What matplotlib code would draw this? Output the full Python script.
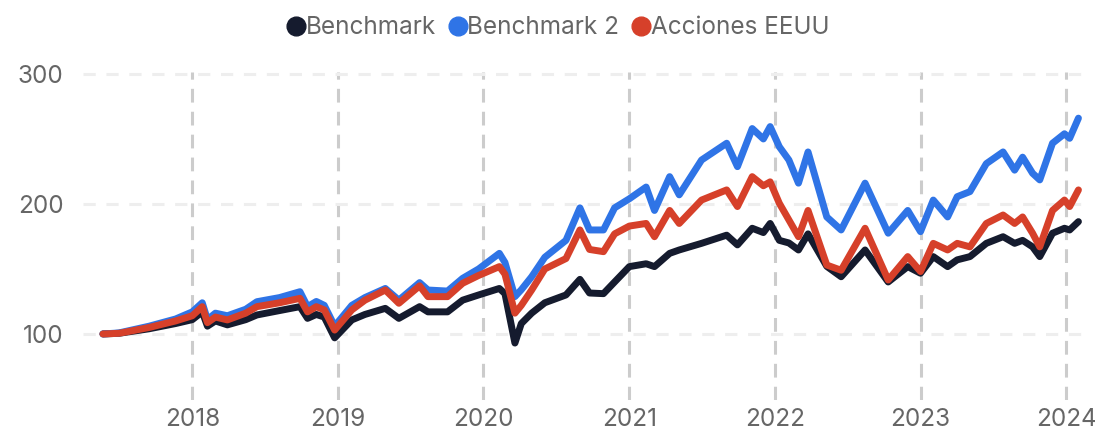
import matplotlib
matplotlib.use("Agg")
import matplotlib.pyplot as plt
import matplotlib.dates as mdates
from matplotlib.lines import Line2D
import pandas as pd

plt.rcParams['font.family'] = ['Inter', 'DejaVu Sans']

dates = [
    "2017-05-22", "2017-07-01", "2017-09-15", "2017-11-20", "2018-01-01", "2018-01-26",
    "2018-02-08", "2018-02-28", "2018-03-30", "2018-05-15", "2018-06-12", "2018-08-08",
    "2018-09-28", "2018-10-17", "2018-11-08", "2018-11-28", "2018-12-24", "2019-02-05",
    "2019-03-10", "2019-04-30", "2019-06-03", "2019-07-25", "2019-08-15", "2019-10-03",
    "2019-11-10", "2019-12-20", "2020-02-10", "2020-02-24", "2020-03-20", "2020-04-05",
    "2020-05-01", "2020-06-03", "2020-07-26", "2020-08-30", "2020-09-23", "2020-10-28",
    "2020-11-25", "2021-01-01", "2021-02-12", "2021-03-05", "2021-04-12", "2021-05-06",
    "2021-07-01", "2021-09-02", "2021-09-29", "2021-11-05", "2021-12-03", "2021-12-20",
    "2022-01-12", "2022-02-05", "2022-03-01", "2022-03-25", "2022-05-11", "2022-06-16",
    "2022-08-15", "2022-10-12", "2022-11-30", "2023-01-01", "2023-02-02", "2023-03-10",
    "2023-04-03", "2023-05-05", "2023-06-15", "2023-07-27", "2023-08-25", "2023-09-14",
    "2023-10-09", "2023-10-27", "2023-11-28", "2023-12-28", "2024-01-10", "2024-02-01",
]

benchmark = [
    100, 100.5, 104, 108, 111, 117,
    106, 110, 107, 111, 114.6, 118,
    121, 112, 115, 113, 97, 110.8,
    115, 119.7, 112, 121, 117, 117,
    126, 130, 135, 131, 93, 108,
    116, 124, 130, 142, 131.5, 131,
    140, 151.8, 154, 151.8, 162, 164.6,
    169.7, 176, 168.5, 181.3, 178, 185,
    172, 170, 164.6, 177, 152, 144,
    164.6, 140, 151.8, 146.7, 159.5, 151.8,
    157, 159.5, 169.7, 174.8, 169.7, 172,
    167, 159.5, 177.5, 181.3, 180, 186.4,
]

benchmark2 = [
    100, 100.8, 106, 111.5, 117, 124,
    111, 116, 114, 119, 124.8, 128,
    132.5, 121, 125, 122, 106, 122,
    128, 135, 126, 139.5, 133.8, 133,
    142.8, 150, 162, 155, 128.7, 134,
    144, 159, 172, 197, 180, 180,
    197, 204, 213, 195, 221, 207,
    233.8, 246.7, 228.7, 258, 250, 259.5,
    244, 233.8, 216, 240, 190, 180,
    216, 177.5, 195, 178.7, 203, 190,
    205.6, 209.5, 231, 240, 226, 236,
    223.6, 218.5, 246.7, 254, 250.5, 266,
]

acciones = [
    100, 100.5, 105, 110, 114, 121,
    108.7, 113, 110.8, 116, 121, 124,
    127.4, 117, 121, 118.5, 103, 118.5,
    126, 133.8, 123.6, 137, 128.7, 128.7,
    139, 145, 151.8, 146, 116, 122,
    133.8, 150, 158, 180, 165, 163.3,
    177, 183, 185, 174.8, 195, 185,
    203, 210.8, 198, 221, 214, 217,
    200.5, 187.7, 174.8, 195, 153, 149,
    181.3, 141.5, 159.5, 148, 169.7, 164.6,
    169.7, 167, 185, 191.5, 185, 190,
    177.5, 167, 195, 203, 198, 210.8,
]

series_names = ["Benchmark", "Benchmark 2", "Acciones EEUU"]
colors = ["#151b2e", "#2f74e6", "#d6402a"]
y_ticks = [100, 200, 300]
x_ticks = ["2018-01-01", "2019-01-01", "2020-01-01", "2021-01-01",
           "2022-01-01", "2023-01-01", "2024-01-01"]
x_ticklabels = ["2018", "2019", "2020", "2021", "2022", "2023", "2024"]

dt = pd.to_datetime(dates)

fig = plt.figure(figsize=(10.95, 4.34), dpi=100)
ax = fig.add_axes([83 / 1095, 1 - 400 / 434, (1090 - 83) / 1095, (400 - 72) / 434])

for vals, name, c in zip([benchmark, benchmark2, acciones], series_names, colors):
    ax.plot(dt, vals, color=c, lw=5, solid_joinstyle="round", solid_capstyle="round",
            label=name, zorder=3)

ax.set_ylim(49.2, 301.5)
ax.set_xlim(pd.Timestamp("2017-04-02"), pd.Timestamp("2024-03-01"))
ax.set_yticks(y_ticks)
ax.set_xticks(pd.to_datetime(x_ticks))
ax.set_xticklabels(x_ticklabels)

for s in ax.spines.values():
    s.set_visible(False)
ax.tick_params(axis="both", length=0, labelsize=17.5, labelcolor="#666666")
ax.tick_params(axis="y", pad=14)
ax.tick_params(axis="x", pad=6)

ax.grid(axis="y", color="#eeeeee", lw=2.2, linestyle=(0, (4, 3.5)), zorder=0)
ax.grid(axis="x", color="#cccccc", lw=2.2, linestyle=(0, (4.5, 3)), zorder=0)
ax.set_axisbelow(True)

handles = [Line2D([], [], marker="o", linestyle="none", markersize=13.5,
                  markerfacecolor=c, markeredgecolor=c) for c in colors]
leg = fig.legend(handles, series_names, loc="center", bbox_to_anchor=(0.51, 1 - 28 / 434),
                 ncol=3, frameon=False, fontsize=17.5, handlelength=0.7,
                 handletextpad=0.05, columnspacing=0.55, borderaxespad=0)
for t in leg.get_texts():
    t.set_color("#666666")

fig.savefig("out.png", dpi=100)
